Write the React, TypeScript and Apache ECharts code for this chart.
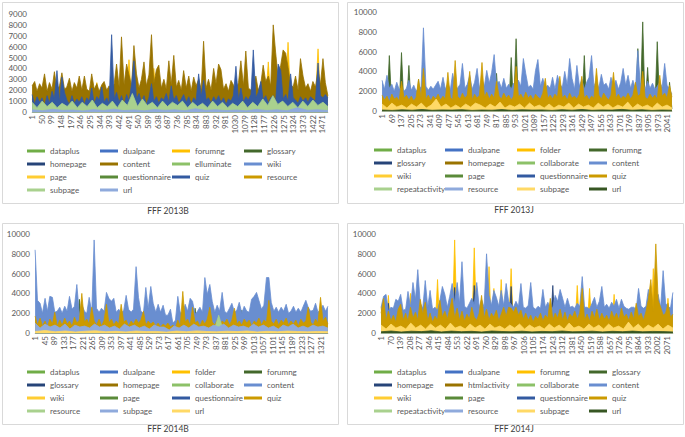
import React, { useEffect, useRef } from "react";
import * as echarts from "echarts";

const FONT = 'Lato, "Noto Sans", sans-serif';
const TEXT = "#595959";

// Excel-style palette (green / blue / gold accents and their shades), in series order
const PALETTE = [
  "#70AD47", "#4472C4", "#FFC000", "#43682B", "#264478", "#997300",
  "#8CC168", "#698ED0", "#FFCD33", "#5A8A39", "#335AA1", "#CC9A00",
  "#A9D18E", "#8FAADC", "#FFD966", "#375623",
];

// ---------- FFF 2013B ----------
const N_2013B = 1500;
const names2013B = ["dataplus", "dualpane", "forumng", "glossary", "homepage", "content", "elluminate", "wiki", "page", "questionnaire", "quiz", "resource", "subpage", "url"];
const content2013B = [
  2400, 2800, 1900, 2600, 2200, 3500, 1900, 2700, 2100, 3700,
  2000, 2400, 3600, 2100, 2300, 3100, 1900, 2700, 2200, 3300,
  2000, 3300, 2100, 1900, 3500, 2100, 2600, 1900, 2500, 2800,
  2000, 2400, 2100, 2600, 4400, 2300, 6900, 2500, 4400, 3400,
  2400, 6100, 3500, 2200, 3000, 4600, 2400, 3400, 7100, 2600,
  3900, 4300, 2200, 3000, 2100, 4700, 2500, 5200, 2300, 2900,
  2000, 3800, 2200, 3300, 1900, 3200, 2400, 3000, 2100, 6500,
  2200, 3000, 2000, 4000, 2600, 4400, 3900, 2100, 2600, 1900,
  2900, 2500, 2000, 2700, 4700, 2400, 5600, 2200, 2000, 2600,
  3300, 2000, 2600, 4300, 2800, 3300, 2400, 8000, 5500, 3100,
  4300, 5700, 5400, 4100, 2500, 2300, 3300, 2000, 4900, 3300,
  2200, 2600, 1900, 2800, 2300, 3800, 2500, 4900, 2700, 1500,
];
const quiz2013B = [
  1600, 700, 1400, 900, 1300, 600, 1500, 800, 1900, 1200,
  3800, 900, 3200, 1800, 1100, 700, 1500, 800, 1200, 900,
  1400, 700, 1300, 1000, 2200, 800, 1400, 1100, 2300, 900,
  1300, 800, 7100, 1200, 1800, 900, 1500, 700, 1600, 1000,
  2500, 4700, 1200, 1700, 900, 1500, 700, 1300, 2600, 1000,
  1400, 800, 1300, 1100, 1700, 900, 2400, 1100, 1500, 800,
  1200, 1600, 900, 1400, 700, 1300, 1000, 3500, 1400, 2900,
  1100, 1300, 800, 1400, 1000, 1500, 900, 1300, 700, 1200,
  1000, 1500, 4200, 1100, 2200, 900, 1400, 1100, 1600, 5700,
  1300, 1800, 2800, 1100, 1500, 800, 1300, 1500, 900, 4400,
  3800, 1200, 1600, 1000, 3500, 1300, 1100, 800, 1400, 1000,
  1300, 900, 1400, 1200, 1000, 4500, 1500, 1300, 1600, 1300,
];
const forumng2013B = [
  1200, 700, 1300, 800, 1100, 600, 1400, 800, 1200, 700,
  1300, 900, 1200, 700, 1100, 800, 1300, 600, 1200, 800,
  1100, 700, 1300, 800, 1200, 900, 2700, 800, 1200, 700,
  1300, 800, 1100, 700, 1400, 800, 1200, 900, 1300, 4800,
  1200, 800, 1300, 700, 1100, 2600, 1200, 800, 1300, 4000,
  1200, 700, 1300, 800, 1100, 900, 1200, 700, 1300, 800,
  1200, 700, 1100, 800, 1300, 900, 1200, 700, 1100, 800,
  1300, 700, 1200, 800, 1100, 900, 1300, 700, 1200, 800,
  1100, 700, 1300, 800, 1200, 900, 1300, 700, 1200, 800,
  1100, 700, 1300, 900, 1200, 4600, 1300, 800, 1200, 700,
  1300, 800, 1200, 6400, 1100, 700, 1300, 800, 1200, 900,
  1100, 700, 1300, 800, 1200, 5800, 1300, 800, 1200, 700,
];
const subpage2013B = [
  900, 400, 1000, 500, 900, 400, 800, 500, 1000, 400,
  900, 500, 1100, 400, 800, 500, 1000, 400, 1100, 600,
  1700, 500, 1200, 600, 900, 400, 1000, 500, 900, 600,
  1000, 400, 900, 500, 800, 400, 1000, 500, 900, 400,
  800, 500, 1000, 400, 900, 500, 1200, 600, 1500, 700,
  1000, 500, 900, 400, 1000, 500, 1100, 600, 900, 500,
];
const url2013B = [200, 120, 250, 150, 180, 100, 220, 140, 260, 130, 190, 110, 230, 160, 200, 120, 300, 150, 210, 130, 180, 110, 240, 140, 200, 120, 380, 160, 210, 130];
const minor2013B: Record<string, number[]> = {
  dataplus: [20, 40, 10, 30, 15, 25],
  dualpane: [10, 30, 20, 40, 10, 20],
  glossary: [30, 10, 20, 15, 35, 10],
  homepage: [40, 60, 30, 50, 45, 35],
  elluminate: [20, 10, 30, 20, 15, 25],
  wiki: [15, 25, 10, 20, 30, 10],
  page: [30, 20, 40, 25, 35, 20],
  questionnaire: [10, 20, 15, 10, 25, 15],
  resource: [50, 70, 40, 60, 55, 45],
};

// ---------- FFF 2013J ----------
const N_2013J = 2075;
const names2013J = ["dataplus", "dualpane", "folder", "forumng", "glossary", "homepage", "collaborate", "content", "wiki", "page", "questionnaire", "quiz", "repeatactivity", "resource", "subpage", "url"];
const content2013J = [
  3100, 2200, 3600, 2300, 2700, 2000, 2900, 2200, 2300, 2000,
  2300, 3100, 2100, 2600, 2000, 2400, 2400, 8400, 2500, 2100,
  2500, 2200, 2600, 3000, 2200, 3400, 2200, 2800, 2100, 3800,
  2400, 2300, 2700, 4800, 2300, 2700, 3600, 2200, 2900, 4300,
  2300, 3200, 2500, 4100, 2800, 3900, 5700, 2600, 3000, 2300,
  3300, 2300, 2700, 2200, 2800, 2200, 3100, 2500, 5300, 3800,
  2400, 2600, 2200, 4100, 5200, 2500, 3300, 2300, 2600, 2300,
  3400, 2200, 3600, 2700, 2400, 4000, 2600, 5300, 3300, 2200,
  4600, 2500, 3200, 2200, 2900, 3400, 5600, 2500, 3100, 2300,
  3700, 2600, 2800, 2200, 3400, 2400, 3100, 2200, 2900, 4300,
  2600, 3600, 2300, 3100, 2200, 6100, 2800, 2700, 2200, 3000,
  2300, 2800, 2200, 2500, 2900, 2400, 4800, 2600, 2200, 1700,
];
const quiz2013J = [
  1600, 1100, 1500, 900, 1700, 1200, 1400, 1000, 3000, 1300,
  1600, 1100, 1500, 1000, 1400, 3200, 1300, 4300, 1200, 1600,
  1000, 1500, 1200, 1700, 1100, 1500, 1200, 3900, 1400, 1100,
  5100, 1500, 1200, 1800, 1300, 1600, 4000, 1100, 1700, 1300,
  1600, 4900, 1400, 1900, 1200, 1700, 1300, 3000, 1500, 1200,
  1800, 1300, 1600, 1100, 1500, 4500, 1400, 1700, 1200, 1900,
  1300, 1600, 1100, 1700, 1400, 1200, 1800, 3300, 1300, 1600,
  1200, 1700, 1400, 3500, 1300, 1600, 1100, 1800, 1300, 1500,
  1200, 1700, 3500, 1300, 1600, 1100, 1500, 1300, 4300, 1600,
  1200, 1800, 1400, 1100, 1600, 3900, 1300, 1700, 1200, 1500,
  1300, 1800, 1200, 1600, 2900, 1500, 1700, 4000, 1400, 1200,
  1700, 1300, 1600, 1200, 3600, 1500, 1800, 1300, 2600, 1400,
];
const forumng2013J = [
  300, 200, 300, 5600, 200, 300, 200, 300, 5900, 200,
  300, 4600, 200, 300, 200, 3200, 300, 200, 300, 200,
  300, 200, 300, 200, 300, 200, 300, 200, 300, 200,
  300, 200, 300, 200, 300, 200, 300, 200, 300, 200,
  300, 200, 300, 200, 300, 200, 300, 3800, 200, 300,
  200, 300, 200, 5400, 300, 7300, 200, 300, 200, 300,
  200, 300, 200, 300, 200, 300, 200, 300, 200, 300,
  200, 300, 200, 300, 200, 300, 200, 300, 200, 300,
  200, 300, 200, 5600, 300, 200, 300, 200, 300, 200,
  300, 200, 300, 200, 300, 200, 300, 200, 300, 200,
  300, 200, 300, 200, 300, 6300, 200, 9000, 300, 4400,
  200, 300, 200, 7000, 300, 200, 300, 200, 2900, 200,
];
const subpage2013J = [
  700, 300, 800, 400, 600, 300, 700, 400, 800, 300,
  600, 1200, 400, 700, 300, 600, 300, 700, 400, 800,
  600, 300, 700, 400, 900, 300, 600, 400, 700, 300,
  800, 400, 600, 300, 700, 300, 600, 400, 800, 300,
  700, 400, 600, 300, 800, 400, 700, 300, 600, 400,
  900, 300, 700, 400, 600, 300, 800, 400, 600, 300,
];
const url2013J = [100, 60, 120, 80, 150, 70, 110, 90, 130, 60, 100, 80, 140, 70, 120, 90, 110, 60, 130, 80, 150, 70, 110, 90, 160, 80, 120, 60, 100, 80];
const minor2013J: Record<string, number[]> = {
  dataplus: [20, 40, 10, 30, 15, 25],
  dualpane: [10, 30, 20, 40, 10, 20],
  folder: [30, 50, 20, 40, 35, 25],
  glossary: [30, 10, 20, 15, 35, 10],
  homepage: [40, 60, 30, 50, 45, 35],
  collaborate: [20, 10, 30, 20, 15, 25],
  wiki: [15, 25, 10, 20, 30, 10],
  page: [30, 20, 40, 25, 35, 20],
  questionnaire: [10, 20, 15, 10, 25, 15],
  repeatactivity: [20, 30, 10, 25, 15, 20],
  resource: [50, 70, 40, 60, 55, 45],
};

// ---------- FFF 2014B ----------
const N_2014B = 1355;
const names2014B = ["dataplus", "dualpane", "folder", "forumng", "glossary", "homepage", "collaborate", "content", "wiki", "page", "questionnaire", "quiz", "resource", "subpage", "url"];
const content2014B = [
  8400, 3300, 3000, 2000, 3500, 2200, 3700, 3600, 2100, 2200,
  2600, 2000, 2700, 2200, 3700, 2400, 2700, 4900, 1800, 2900,
  2200, 2000, 3600, 2100, 9400, 2500, 2100, 2500, 2200, 4100,
  3500, 3200, 3500, 2100, 2400, 2000, 2300, 3800, 2400, 2100,
  2400, 6700, 3600, 2200, 2000, 4600, 2500, 4700, 3000, 2100,
  2900, 2100, 2800, 1800, 1800, 2400, 1000, 1300, 3700, 2100,
  2000, 2900, 2200, 3500, 3200, 1900, 2200, 2600, 2100, 5600,
  3900, 4900, 3200, 2100, 2800, 2200, 4100, 2200, 2000, 2500,
  3000, 2100, 2300, 3100, 2000, 2700, 2200, 2100, 3400, 3700,
  4100, 3300, 2400, 2800, 5600, 5600, 3100, 2200, 2600, 2100,
  2600, 2200, 2900, 2000, 2200, 2700, 2100, 2500, 2100, 2700,
  3300, 2600, 2200, 2300, 3000, 2100, 2400, 2800, 2200, 2700,
];
const quiz2014B = [
  1700, 800, 1500, 700, 1200, 600, 1400, 900, 2100, 700,
  1300, 800, 1500, 900, 1200, 700, 1600, 1000, 1300, 4000,
  1100, 1400, 900, 2600, 1200, 800, 1400, 700, 1300, 2900,
  1000, 1400, 800, 1200, 900, 2900, 1100, 1300, 700, 1200,
  900, 1400, 1000, 1300, 2200, 800, 1200, 900, 1100, 700,
  1000, 600, 900, 700, 1000, 600, 800, 500, 1300, 700,
  4200, 1100, 1400, 800, 2600, 1000, 1200, 700, 1300, 900,
  1400, 2600, 1100, 800, 1300, 700, 1200, 1000, 1400, 800,
  1300, 2500, 900, 1200, 800, 1400, 1000, 1300, 700, 1200,
  1000, 1500, 800, 1300, 1100, 3300, 1200, 900, 1400, 800,
  1300, 1000, 1500, 800, 1200, 900, 1300, 700, 1400, 1000,
  1200, 2600, 1100, 800, 1400, 1000, 3600, 1200, 1600, 900,
];
const forumng2014B = [
  150, 80, 150, 80, 150, 80, 150, 80, 150, 80,
  150, 80, 150, 80, 150, 80, 150, 80, 3400, 80,
  150, 80, 150, 80, 150, 80, 150, 80, 150, 80,
  150, 80, 150, 80, 150, 80, 150, 80, 150, 80,
  150, 80, 150, 80, 150, 80, 150, 80, 150, 80,
  150, 80, 150, 80, 150, 80, 150, 80, 150, 80,
  150, 80, 150, 80, 150, 2500, 150, 80, 150, 80,
  150, 80, 150, 80, 150, 80, 150, 80, 150, 80,
  150, 80, 150, 80, 2300, 80, 150, 80, 150, 80,
  150, 80, 150, 80, 150, 80, 150, 80, 150, 80,
  150, 80, 150, 80, 150, 80, 150, 80, 150, 80,
  150, 80, 150, 80, 150, 80, 150, 80, 150, 80,
];
const resource2014B = [
  100, 50, 100, 50, 100, 50, 100, 50, 100, 50,
  100, 50, 100, 50, 100, 50, 100, 50, 100, 50,
  100, 50, 100, 50, 100, 50, 100, 50, 100, 50,
  100, 50, 100, 50, 100, 50, 100, 1800, 100, 50,
  100, 50, 100, 50, 100, 50, 100, 50, 100, 50,
  100, 50, 100, 50, 100, 50, 100, 50, 100, 50,
];
const subpage2014B = [
  1000, 500, 900, 600, 800, 500, 900, 400, 800, 600,
  700, 500, 900, 600, 800, 500, 700, 400, 900, 600,
  800, 500, 700, 400, 800, 600, 600, 300, 700, 500,
  800, 500, 900, 600, 700, 500, 800, 600, 900, 500,
  800, 600, 700, 500, 900, 600, 800, 500, 700, 400,
  800, 600, 900, 500, 700, 500, 800, 600, 700, 500,
];
const url2014B = [150, 250, 120, 200, 100, 180, 220, 130, 170, 110, 200, 140, 160, 90, 190, 130, 210, 150, 120, 180, 140, 200, 110, 170, 130, 190, 150, 120, 160, 130];
const minor2014B: Record<string, number[]> = {
  dataplus: [20, 40, 10, 30, 15, 25],
  dualpane: [10, 30, 20, 40, 10, 20],
  folder: [30, 50, 20, 40, 35, 25],
  glossary: [30, 10, 20, 15, 35, 10],
  homepage: [40, 60, 30, 50, 45, 35],
  collaborate: [20, 10, 30, 20, 15, 25],
  wiki: [15, 25, 10, 20, 30, 10],
  page: [30, 20, 40, 25, 35, 20],
  questionnaire: [10, 20, 15, 10, 25, 15],
};

// ---------- FFF 2014J ----------
const N_2014J = 2115;
const names2014J = ["dataplus", "dualpane", "forumng", "glossary", "homepage", "htmlactivity", "collaborate", "content", "wiki", "page", "questionnaire", "quiz", "repeatactivity", "resource", "subpage", "url"];
const content2014J = [
  2600, 3700, 3900, 2200, 2600, 2500, 3400, 3200, 3900, 2300,
  2400, 4200, 2600, 5100, 3400, 6400, 3000, 2500, 5300, 2600,
  4300, 2400, 2600, 2300, 3300, 4700, 3900, 2600, 3700, 5000,
  3000, 5100, 3000, 7200, 2700, 2500, 3000, 3500, 2900, 5100,
  2600, 3400, 2600, 8000, 3800, 2800, 4300, 3600, 2700, 4300,
  2800, 5000, 3200, 2900, 2600, 3200, 2700, 5000, 2600, 2500,
  2800, 5100, 2600, 2400, 2700, 2500, 4400, 2600, 3100, 2500,
  2600, 3800, 3200, 4400, 3500, 2600, 3500, 2600, 2700, 2500,
  3000, 2700, 5700, 2600, 2600, 2400, 3000, 3600, 2600, 3200,
  4700, 2600, 2900, 2500, 3100, 2700, 3400, 2500, 3400, 2700,
  2500, 2400, 2600, 2600, 2400, 4500, 2700, 2500, 2700, 4400,
  2500, 2400, 2600, 3900, 2600, 6300, 3000, 2700, 2500, 4100,
];
const quiz2014J = [
  2000, 3500, 1300, 2200, 1200, 1800, 1100, 2400, 2900, 1300,
  2000, 1200, 2600, 1500, 2100, 1300, 3400, 1900, 3100, 1200,
  2000, 1100, 1700, 1300, 3300, 1600, 2200, 1400, 2400, 3500,
  1500, 2500, 1300, 2200, 1200, 1900, 1400, 2600, 1600, 1300,
  2000, 3800, 1500, 2400, 1300, 2000, 1600, 2300, 1200, 1900,
  2600, 1700, 2600, 2500, 2100, 2600, 1800, 2300, 1400, 2000,
  1300, 1800, 1100, 1700, 1400, 2000, 1200, 1800, 1500, 3500,
  1300, 2000, 1500, 2400, 1300, 2100, 1200, 1900, 1600, 2200,
  1400, 2000, 4500, 1300, 1900, 1200, 2200, 1500, 2400, 1300,
  2000, 1400, 1800, 1200, 2200, 1500, 2000, 1300, 2500, 1600,
  1900, 1300, 2100, 1400, 3000, 1600, 2000, 1300, 2200, 3400,
  5400, 2200, 9000, 3300, 2600, 1800, 2000, 3000, 1600, 1900,
];
const forumng2014J = [
  2600, 300, 200, 3800, 300, 200, 300, 200, 300, 200,
  300, 200, 4000, 200, 300, 200, 300, 200, 300, 200,
  300, 200, 300, 5400, 300, 200, 300, 200, 300, 200,
  9400, 200, 300, 200, 300, 200, 300, 200, 8600, 200,
  300, 200, 300, 200, 6700, 200, 4500, 200, 300, 5400,
  300, 200, 300, 6500, 300, 200, 300, 200, 300, 200,
  300, 200, 300, 200, 300, 200, 300, 200, 300, 200,
  300, 200, 300, 200, 300, 200, 300, 200, 300, 200,
  4800, 200, 300, 200, 300, 4500, 300, 200, 300, 200,
  300, 200, 300, 200, 300, 3900, 300, 200, 300, 200,
  300, 200, 300, 200, 300, 200, 300, 200, 300, 200,
  300, 6500, 300, 200, 300, 200, 300, 3500, 300, 200,
];
const homepage2014J = [
  200, 100, 200, 3000, 200, 100, 200, 100, 200, 100,
  200, 2400, 200, 100, 200, 100, 200, 100, 200, 100,
  200, 100, 200, 100, 200, 100, 200, 100, 200, 100,
  4600, 100, 200, 100, 200, 100, 200, 100, 4800, 100,
  200, 100, 200, 100, 200, 100, 200, 100, 200, 100,
  200, 100, 200, 4700, 200, 100, 200, 100, 200, 100,
  200, 100, 200, 100, 200, 100, 200, 100, 200, 100,
  4800, 100, 200, 100, 200, 100, 200, 100, 200, 100,
  200, 100, 200, 100, 200, 100, 200, 100, 200, 100,
  200, 100, 200, 100, 200, 100, 200, 100, 200, 100,
  200, 100, 200, 100, 200, 100, 200, 100, 200, 100,
  200, 2000, 200, 100, 200, 100, 200, 100, 200, 100,
];
const subpage2014J = [
  800, 400, 900, 500, 700, 400, 1000, 500, 800, 400,
  900, 500, 800, 400, 1000, 500, 700, 400, 900, 500,
  800, 400, 900, 500, 700, 400, 800, 500, 900, 400,
  800, 500, 700, 400, 900, 500, 800, 400, 1000, 500,
  700, 400, 900, 500, 800, 400, 900, 500, 700, 400,
  1100, 500, 900, 400, 800, 500, 900, 400, 800, 500,
];
const url2014J = [120, 200, 100, 180, 140, 220, 110, 190, 130, 170, 100, 200, 150, 120, 180, 110, 160, 130, 200, 120, 140, 180, 110, 170, 130, 190, 120, 160, 140, 110];
const minor2014J: Record<string, number[]> = {
  dataplus: [20, 40, 10, 30, 15, 25],
  dualpane: [10, 30, 20, 40, 10, 20],
  glossary: [30, 10, 20, 15, 35, 10],
  htmlactivity: [40, 60, 30, 50, 45, 35],
  collaborate: [20, 10, 30, 20, 15, 25],
  wiki: [15, 25, 10, 20, 30, 10],
  page: [30, 20, 40, 25, 35, 20],
  questionnaire: [10, 20, 15, 10, 25, 15],
  repeatactivity: [20, 30, 10, 25, 15, 20],
  resource: [50, 70, 40, 60, 55, 45],
};

// ---------- panel definitions ----------
type Panel = {
  title: string;
  N: number;
  labelInterval: number;
  yMax: number;
  yInterval: number;
  names: string[];
  data: Record<string, number[]>;
  grid: { left: number; top: number; width: number; height: number };
  box: [number, number, number, number];
  titlePos: [number, number];
  legendCols: number[];
  legendTop: number;
};

const panels: Panel[] = [
  {
    title: "FFF 2013B", N: N_2013B, labelInterval: 48, yMax: 9000, yInterval: 1000,
    names: names2013B,
    data: { ...minor2013B, forumng: forumng2013B, content: content2013B, quiz: quiz2013B, subpage: subpage2013B, url: url2013B },
    grid: { left: 32, top: 14, width: 296, height: 98 },
    box: [2.5, 2.5, 336, 201], titlePos: [168, 211],
    legendCols: [27, 100, 172, 244], legendTop: 144.5,
  },
  {
    title: "FFF 2013J", N: N_2013J, labelInterval: 67, yMax: 10000, yInterval: 2000,
    names: names2013J,
    data: { ...minor2013J, forumng: forumng2013J, content: content2013J, quiz: quiz2013J, subpage: subpage2013J, url: url2013J },
    grid: { left: 382, top: 12, width: 290, height: 99 },
    box: [347.5, 2.5, 336, 201], titlePos: [514, 210],
    legendCols: [374, 445, 517, 589], legendTop: 143.5,
  },
  {
    title: "FFF 2014B", N: N_2014B, labelInterval: 43, yMax: 10000, yInterval: 2000,
    names: names2014B,
    data: { ...minor2014B, forumng: forumng2014B, content: content2014B, quiz: quiz2014B, resource: resource2014B, subpage: subpage2014B, url: url2014B },
    grid: { left: 35, top: 234, width: 293, height: 99 },
    box: [2.5, 223.5, 336, 201], titlePos: [168, 429],
    legendCols: [27, 100, 172, 244], legendTop: 365.5,
  },
  {
    title: "FFF 2014J", N: N_2014J, labelInterval: 68, yMax: 10000, yInterval: 2000,
    names: names2014J,
    data: { ...minor2014J, forumng: forumng2014J, homepage: homepage2014J, content: content2014J, quiz: quiz2014J, subpage: subpage2014J, url: url2014J },
    grid: { left: 381, top: 234, width: 292, height: 99 },
    box: [347.5, 223.5, 336, 201], titlePos: [514, 429],
    legendCols: [374, 445, 517, 589], legendTop: 365.5,
  },
];

// place each typed sample at its position along the day axis
function toPairs(values: number[], N: number): [number, number][] {
  const m = values.length;
  return values.map((v, i) => [Math.round((i * (N - 1)) / (m - 1)), v]);
}

function buildOption() {
  const grids: any[] = [];
  const xAxes: any[] = [];
  const yAxes: any[] = [];
  const series: any[] = [];
  const legends: any[] = [];
  const graphics: any[] = [];

  panels.forEach((p, pi) => {
    grids.push({ ...p.grid, containLabel: false });
    const cats = Array.from({ length: p.N }, (_, i) => String(i + 1));
    xAxes.push({
      type: "category", gridIndex: pi, data: cats, boundaryGap: true,
      axisLine: { lineStyle: { color: "#D9D9D9", width: 1 } },
      axisTick: { show: false },
      splitLine: { show: false },
      axisLabel: { interval: p.labelInterval, rotate: 90, fontSize: 8, color: TEXT, fontFamily: FONT, margin: 3 },
    });
    yAxes.push({
      type: "value", gridIndex: pi, min: 0, max: p.yMax, interval: p.yInterval,
      axisLine: { show: false }, axisTick: { show: false }, splitLine: { show: false },
      axisLabel: { fontSize: 8, color: TEXT, fontFamily: FONT, margin: 5, formatter: (v: number) => String(v) },
    });
    p.names.forEach((name, k) => {
      const color = PALETTE[k];
      const vals = p.data[name] || [];
      series.push({
        type: "line", name, xAxisIndex: pi, yAxisIndex: pi,
        data: toPairs(vals, p.N),
        symbol: "none", showSymbol: false, silent: true,
        z: 2 + k,
        lineStyle: { color, width: 0.8 },
        itemStyle: { color },
        areaStyle: { color, opacity: 1 },
      });
    });
    for (let c = 0; c < 4; c++) {
      const items = p.names
        .map((name, k) => ({ name, k }))
        .filter((o) => o.k % 4 === c)
        .map((o) => ({ name: o.name, itemStyle: { color: PALETTE[o.k] } }));
      legends.push({
        orient: "vertical", left: p.legendCols[c], top: p.legendTop,
        padding: 0, itemGap: 0, itemWidth: 18, itemHeight: 3, icon: "rect",
        selectedMode: false,
        textStyle: { fontSize: 8, color: TEXT, fontFamily: FONT, lineHeight: 13 },
        data: items,
      });
    }
    graphics.push({
      type: "rect", z: -1, silent: true,
      shape: { x: p.box[0], y: p.box[1], width: p.box[2], height: p.box[3] },
      style: { fill: "#FFFFFF", stroke: "#D9D9D9", lineWidth: 1 },
    });
    graphics.push({
      type: "text", x: p.titlePos[0], y: p.titlePos[1], silent: true,
      style: { text: p.title, fontSize: 8.5, fill: "#404040", fontFamily: FONT, align: "center", verticalAlign: "middle" },
    });
  });

  return {
    animation: false,
    backgroundColor: "#FFFFFF",
    grid: grids,
    xAxis: xAxes,
    yAxis: yAxes,
    legend: legends,
    series,
    graphic: graphics,
  };
}

export default function App() {
  const ref = useRef<HTMLDivElement>(null);
  useEffect(() => {
    if (!ref.current) return;
    const chart = echarts.init(ref.current, undefined, { renderer: "svg" });
    chart.setOption(buildOption() as any);
    return () => chart.dispose();
  }, []);
  return <div ref={ref} style={{ position: "absolute", left: 0, top: 0, width: 685, height: 437 }} />;
}
